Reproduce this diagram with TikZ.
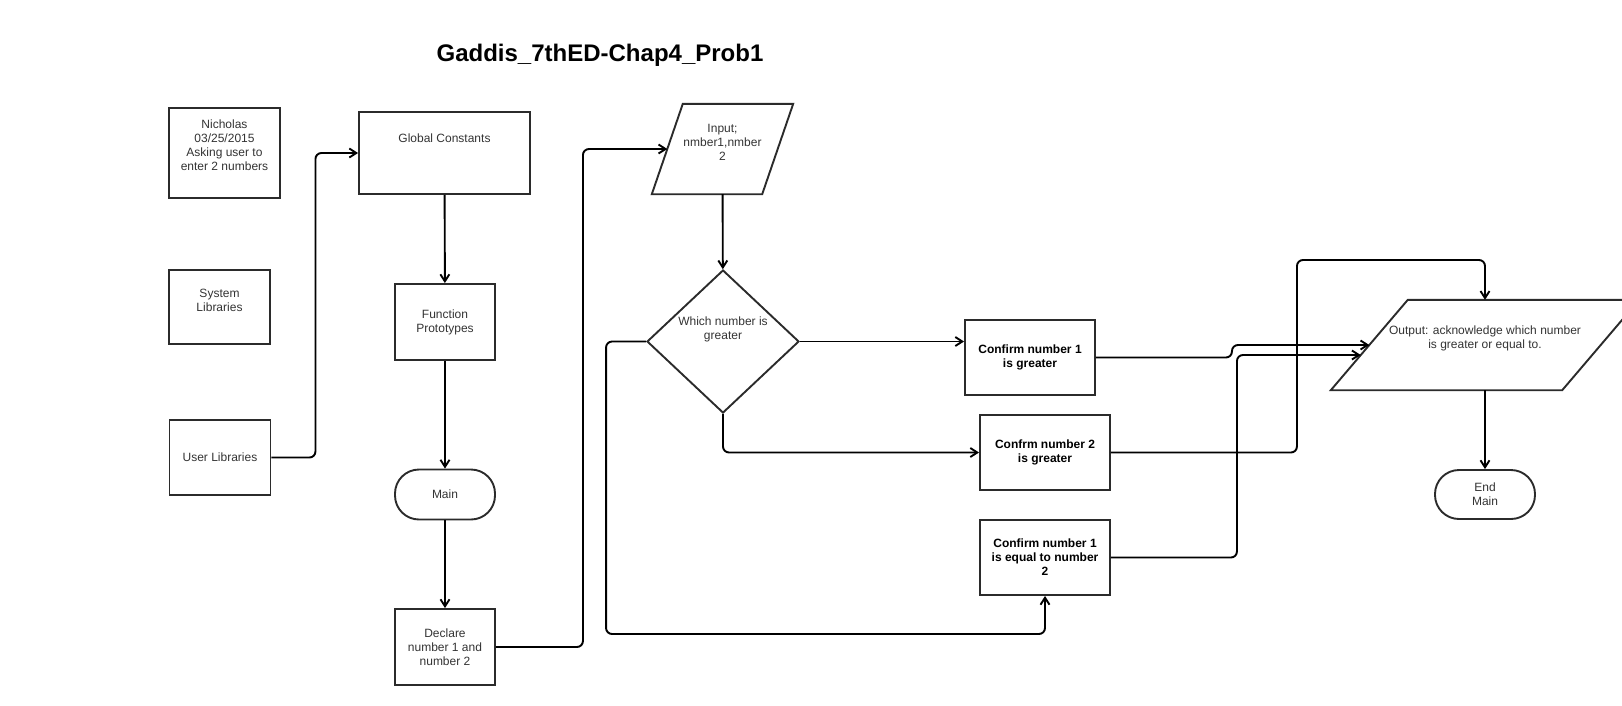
\documentclass[tikz,border=0pt]{standalone}
\usepackage{fontspec}
\setmainfont{Liberation Sans}
\usetikzlibrary{arrows.meta,shapes.geometric}
\definecolor{txtgray}{HTML}{333333}
\definecolor{linegray}{HTML}{2B2B2B}
\begin{document}
\begin{tikzpicture}
[x=1pt,y=-1pt,%
  every node/.style={font=\fontsize{12}{14}\selectfont,text=txtgray,align=center,inner sep=0pt},
  procbox/.style={shape=rectangle,draw=linegray,line width=1.9pt},
  boldbox/.style={procbox,font=\fontsize{12}{14}\selectfont\bfseries,text=black},
  termbox/.style={procbox,rounded corners=24pt},
  iobox/.style={shape=rectangle,minimum height=90},
  slant/.style={draw=linegray,line width=1.9pt,line join=miter},
  decbox/.style={shape=diamond,draw=linegray,line width=1.9pt},
  arr/.style={-{Straight Barb[length=7pt,width=9pt]},line width=1.9pt,rounded corners=6pt}]
\useasboundingbox (0,0) rectangle (1622,705);
\node[font=\fontsize{24}{28}\selectfont\bfseries,text=black] (title) at (600,55) {Gaddis\_7thED-Chap4\_Prob1};
% left column
\node[procbox,minimum width=111,minimum height=90,
  label={[yshift=8]center:Nicholas\\03/25/2015\\Asking user to\\enter 2 numbers}] (author) at (224.5,153) {};
\node[procbox,minimum width=101,minimum height=74,
  label={[yshift=7]center:System\\Libraries}] (syslib) at (219.5,307) {};
\node[procbox,minimum width=101,minimum height=75] (userlib) at (220,457.5) {User Libraries};
% main column
\node[procbox,minimum width=171,minimum height=82,
  label={[yshift=15]center:Global Constants}] (globals) at (444.5,153) {};
\node[procbox,minimum width=100,minimum height=76] (protos) at (445,322) {Function\\Prototypes};
\node[termbox,minimum width=100,minimum height=50] (main) at (445,494.5) {Main};
\node[procbox,minimum width=100,minimum height=76] (declare) at (445,647) {Declare\\number 1 and\\number 2};
% input and decision
\node[iobox,minimum width=110,
  label={[yshift=7]center:Input;\\nmber1,nmber\\2}] (input) at (722.5,149) {};
\draw[slant] ([xshift=-15.5]input.south west) -- ([xshift=15.5]input.north west)
  -- ([xshift=15.5]input.north east) -- ([xshift=-15.5]input.south east) -- cycle;
\node[decbox,minimum width=152,minimum height=143,
  label={[yshift=12.5]center:Which number is\\greater}] (compare) at (723,341.5) {};
% results
\node[boldbox,minimum width=130,minimum height=75] (greater1) at (1030,357.5) {Confirm number 1\\is greater};
\node[boldbox,minimum width=130,minimum height=75] (greater2) at (1045,452.5) {Confrm number 2\\is greater};
\node[boldbox,minimum width=130,minimum height=75] (equal) at (1045,557.5) {Confirm number 1\\is equal to number\\2};
% output and end
\node[iobox,minimum width=231,
  label={[yshift=7]center:{Output: acknowledge which number\\is greater or equal to.}}] (output) at (1485,345) {};
\draw[slant] ([xshift=-38.5]output.south west) -- ([xshift=38.5]output.north west)
  -- ([xshift=38.5]output.north east) -- ([xshift=-38.5]output.south east) -- cycle;
\coordinate (outlow) at ([xshift=-8.6,yshift=-10]output.west);
\node[termbox,minimum width=100,minimum height=49] (endmain) at (1485,494.5) {End\\Main};
% connectors
\draw[arr] (userlib.east) -- ++(44,0) |- (globals.west);
\draw[arr] (globals) -- (protos);
\draw[arr] (protos) -- (main);
\draw[arr] (main) -- (declare);
\draw[arr] (declare.east) -- ++(87,0) |- (input.west);
\draw[arr] (input) -- (compare);
\draw[arr] (compare.east) -- (compare.east -| greater1.west);
\draw[arr] (compare.south) |- (greater2.west);
\draw[arr] (compare.west) -- ++(-40,0) -- ++(0,292.5) -| (equal.south);
\draw[arr] (greater1.east) -- ++(136,0) |- (output.west);
\draw[arr] (greater2.east) -- ++(186,0) -- ++(0,-192.5) -| (output.north);
\draw[arr] (equal.east) -- ++(126,0) |- (outlow);
\draw[arr] (output) -- (endmain);
\end{tikzpicture}
\end{document}
